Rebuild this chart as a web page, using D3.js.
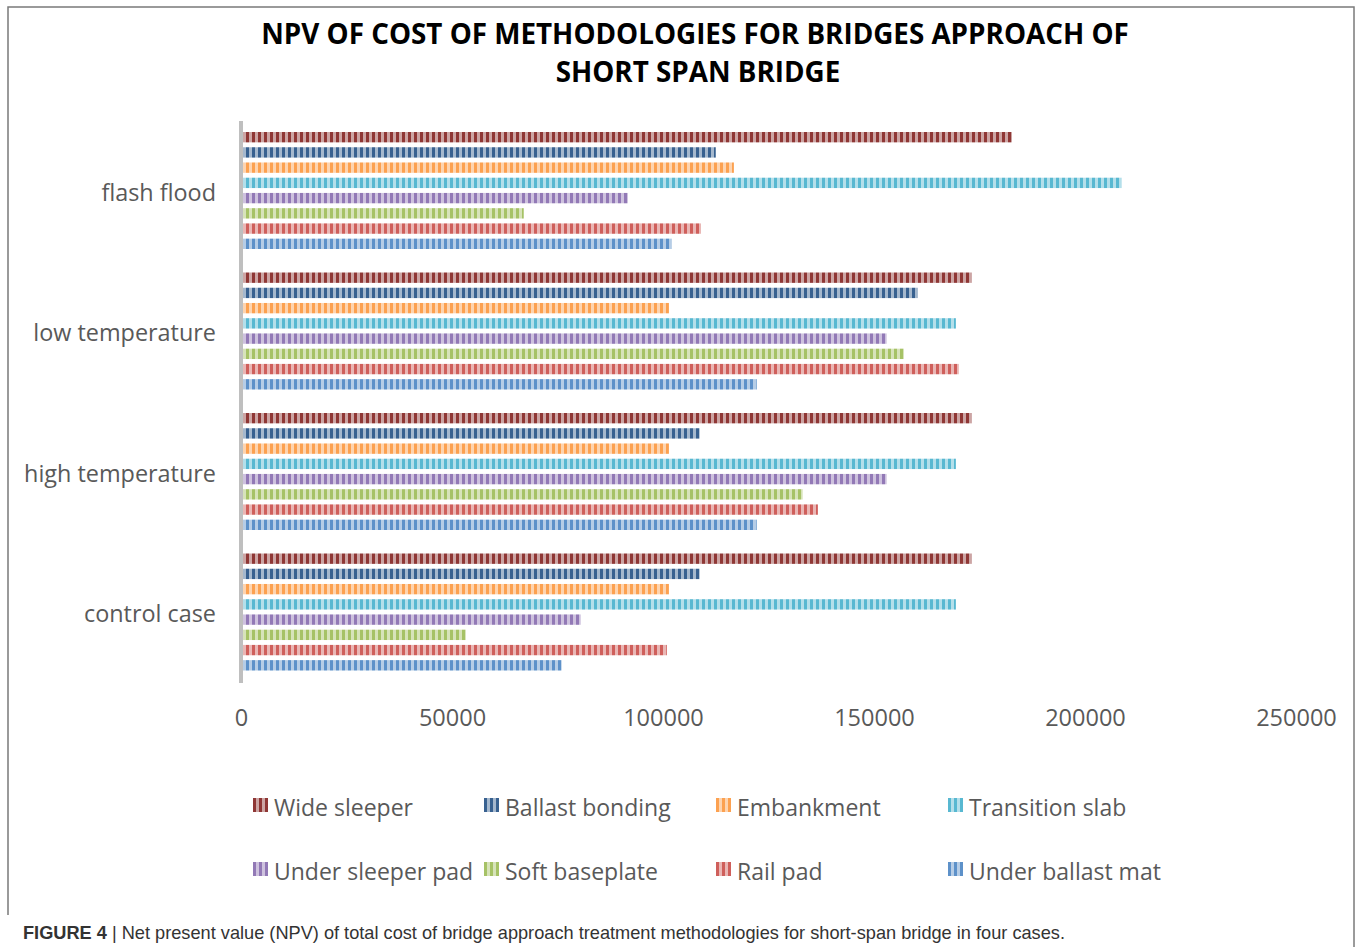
<!DOCTYPE html>
<html><head><meta charset="utf-8">
<script src="https://cdn.jsdelivr.net/npm/d3@7"></script>
<style>
body{margin:0;background:#fff;}
svg{display:block;}
</style></head>
<body>
<svg id="chart" width="1357" height="947"></svg>
<script>
const categories = ["flash flood", "low temperature", "high temperature", "control case"];
const seriesNames = ["Wide sleeper", "Ballast bonding", "Embankment", "Transition slab",
  "Under sleeper pad", "Soft baseplate", "Rail pad", "Under ballast mat"];
const seriesColors = ["#8f3735", "#386190", "#fca150", "#58b8d1", "#9279b6", "#a6c266", "#cf5f5b", "#5d91c9"];
// values per series, in category order
const wideSleeper     = [182700, 173200, 173200, 173200];
const ballastBonding  = [112500, 160400, 108700, 108700];
const embankment      = [116800, 101400, 101400, 101400];
const transitionSlab  = [208700, 169400, 169400, 169400];
const underSleeperPad = [91700, 153000, 153000, 80500];
const softBaseplate   = [67000, 157100, 133100, 53300];
const railPad         = [109000, 170100, 136700, 100900];
const underBallastMat = [102100, 122200, 122200, 76000];
const seriesValues = [wideSleeper, ballastBonding, embankment, transitionSlab,
  underSleeperPad, softBaseplate, railPad, underBallastMat];
const xTicks = [0, 50000, 100000, 150000, 200000, 250000];

const svg = d3.select("#chart");
const defs = svg.append("defs");
seriesColors.forEach((c, i) => {
  const p = defs.append("pattern").attr("id", "pat" + i)
    .attr("patternUnits", "userSpaceOnUse").attr("width", 6).attr("height", 20);
  p.append("rect").attr("width", 6).attr("height", 20).attr("fill", c).attr("opacity", 0.45);
  p.append("rect").attr("x", 0).attr("width", 3).attr("height", 20).attr("fill", c);
});

// frame
svg.append("rect").attr("x", 8).attr("y", 7).attr("width", 1346).attr("height", 960)
  .attr("fill", "none").attr("stroke", "#7a7a7a").attr("stroke-width", 1.5);

// title
const title = svg.append("text").attr("text-anchor", "middle")
  .attr("font-family", "Open Sans").attr("font-weight", "bold").attr("font-size", 27.8)
  .attr("fill", "#000");
title.append("tspan").attr("x", 695).attr("y", 44).text("NPV OF COST OF METHODOLOGIES FOR BRIDGES APPROACH OF");
title.append("tspan").attr("x", 698).attr("y", 82).text("SHORT SPAN BRIDGE");

const x = d3.scaleLinear().domain([0, 250000]).range([241, 1296]);
const y = d3.scaleBand().domain(categories).range([123, 685]);
const yInner = d3.scaleBand().domain(d3.range(seriesNames.length)).range([9, 126]).paddingInner(0.32);

// bars
seriesValues.forEach((vals, si) => {
  svg.append("g").selectAll("rect").data(vals).join("rect")
    .attr("x", x(0) + 2)
    .attr("y", (d, ci) => y(categories[ci]) + yInner(si))
    .attr("width", d => x(d) - x(0) - 2)
    .attr("height", yInner.bandwidth())
    .attr("fill", `url(#pat${si})`);
});

// x axis labels
const xAxis = d3.axisBottom(x).tickValues(xTicks).tickSize(0).tickFormat(d3.format("d"));
const gx = svg.append("g").attr("transform", "translate(0,706)").call(xAxis);
gx.select(".domain").remove();
gx.selectAll("text").attr("font-family", "Open Sans").attr("font-size", 23.5).attr("fill", "#595959").attr("dy", "0.71em");

// y axis
const yAxis = d3.axisLeft(y).tickSize(0).tickPadding(25);
const gy = svg.append("g").attr("transform", `translate(${x(0)},0)`).call(yAxis);
gy.select(".domain").attr("stroke", "#bfbfbf").attr("stroke-width", 4)
  .attr("d", "M0,121V683");
gy.selectAll("text").attr("font-family", "Open Sans").attr("font-size", 23.4).attr("fill", "#595959");

// legend
const legendX = [253, 484, 716, 948];
const legendY = [808, 872];
seriesNames.forEach((name, i) => {
  const lx = legendX[i % 4], ly = legendY[Math.floor(i / 4)];
  const g = svg.append("g").attr("transform", `translate(${lx},${ly})`);
  g.append("rect").attr("x", 0).attr("y", -10).attr("width", 15).attr("height", 14)
    .attr("fill", `url(#pat${i})`);
  g.append("text").attr("x", 21).attr("y", 0).attr("dy", "0.35em")
    .attr("font-family", "Open Sans").attr("font-size", 23).attr("fill", "#595959").text(name);
});

// caption
svg.append("rect").attr("x", 0).attr("y", 915).attr("width", 1100).attr("height", 40).attr("fill", "#fff");
const cap = svg.append("text").attr("x", 23).attr("y", 939)
  .attr("font-family", "Liberation Sans, Arial").attr("font-size", 18.2).attr("fill", "#333");
cap.append("tspan").attr("font-weight", "bold").text("FIGURE 4");
cap.append("tspan").text(" | Net present value (NPV) of total cost of bridge approach treatment methodologies for short-span bridge in four cases.");
</script>
</body></html>
